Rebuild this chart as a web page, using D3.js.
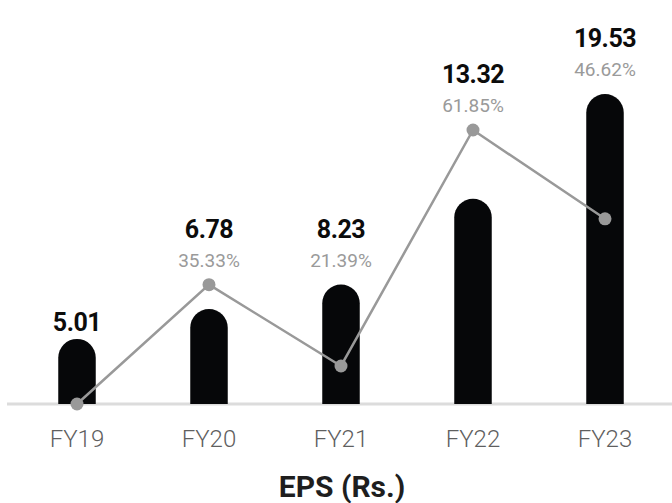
<!DOCTYPE html>
<html>
<head>
<meta charset="utf-8">
<script src="https://cdn.jsdelivr.net/npm/d3@7"></script>
<style>
  html, body { margin: 0; padding: 0; background: #fff; }
  svg { display: block; font-family: Roboto, "Noto Sans", sans-serif; }
</style>
</head>
<body>
<svg id="chart" width="672" height="503"></svg>
<script>
// ---- data ----
const categories = ["FY19", "FY20", "FY21", "FY22", "FY23"];
const eps = [5.01, 6.78, 8.23, 13.32, 19.53];
const growth = [0, 35.33, 21.39, 61.85, 46.62];
const growthLabels = [null, "35.33%", "21.39%", "61.85%", "46.62%"];
const epsLabels = ["5.01", "6.78", "8.23", "13.32", "19.53"];
const title = "EPS (Rs.)";

// ---- layout ----
const W = 672, H = 503;
const baseY = 404;
const svg = d3.select("#chart");

const x = d3.scalePoint().domain(categories).range([11, 671]).padding(0.5);
const yBar = d3.scaleLinear().domain([1.15, 19.53]).range([baseY, 94]);
const yLine = d3.scaleLinear().domain([14.87, 61.85]).range([baseY, 130]).clamp(true);

const barW = 37.5, r = barW / 2;

// baseline
svg.append("line")
  .attr("x1", 7).attr("x2", W)
  .attr("y1", baseY).attr("y2", baseY)
  .attr("stroke", "#dcdcdc").attr("stroke-width", 3);

// bars with rounded tops
svg.append("g").selectAll("path").data(eps).join("path")
  .attr("fill", "#060709")
  .attr("d", (d, i) => {
    const cx = x(categories[i]);
    const top = yBar(d);
    const l = cx - r, rt = cx + r;
    return `M${l},${baseY}L${l},${top + r}A${r},${r} 0 0 1 ${rt},${top + r}L${rt},${baseY}Z`;
  });

// growth line
const lineGen = d3.line()
  .x((d, i) => x(categories[i]))
  .y(d => yLine(d));
svg.append("path")
  .datum(growth)
  .attr("d", lineGen)
  .attr("fill", "none")
  .attr("stroke", "#999999")
  .attr("stroke-width", 2.5);

svg.append("g").selectAll("circle").data(growth).join("circle")
  .attr("cx", (d, i) => x(categories[i]))
  .attr("cy", d => yLine(d))
  .attr("r", 6.5)
  .attr("fill", "#999999");

// labels
const pctBase = (i) => Math.min(yBar(eps[i]), yLine(growth[i])) - 18;
const idx = d3.range(categories.length);
svg.append("g").selectAll("text").data(idx.filter(i => growthLabels[i] !== null)).join("text")
  .attr("x", i => x(categories[i]))
  .attr("y", i => pctBase(i))
  .attr("text-anchor", "middle")
  .attr("font-size", 19)
  .attr("fill", "#9a9a9a")
  .text(i => growthLabels[i]);

svg.append("g").selectAll("text").data(idx).join("text")
  .attr("x", i => x(categories[i]))
  .attr("y", i => growthLabels[i] === null ? yBar(eps[i]) - 8 : pctBase(i) - 29)
  .attr("text-anchor", "middle")
  .attr("font-size", 25)
  .attr("font-weight", 700)
  .attr("letter-spacing", -0.5)
  .attr("fill", "#0c0c0c")
  .text(i => epsLabels[i]);

// x axis labels
svg.append("g").selectAll("text").data(categories).join("text")
  .attr("x", d => x(d))
  .attr("y", 447)
  .attr("text-anchor", "middle")
  .attr("font-size", 24)
  .attr("font-weight", 300)
  .attr("fill", "#5f5f5f")
  .text(d => d);

// title
svg.append("text")
  .attr("x", 342).attr("y", 497)
  .attr("text-anchor", "middle")
  .attr("font-size", 30)
  .attr("font-weight", 700)
  .attr("fill", "#1e1e1e")
  .text(title);
</script>
</body>
</html>
